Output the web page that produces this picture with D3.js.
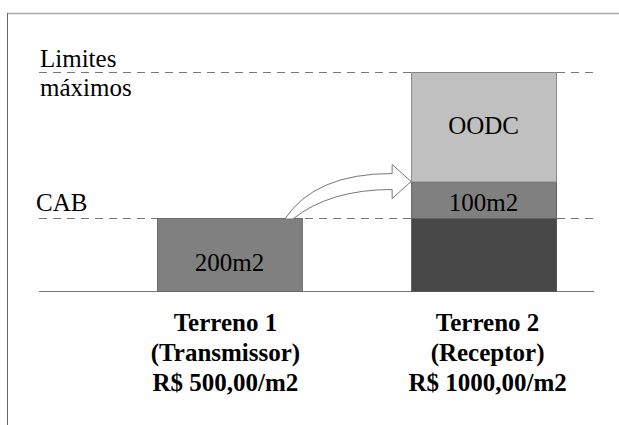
<!DOCTYPE html>
<html>
<head>
<meta charset="utf-8">
<script src="https://cdn.jsdelivr.net/npm/d3@7"></script>
<style>
  body { margin: 0; background: #fff; }
  svg text { font-family: "Liberation Serif", "Times New Roman", serif; fill: #000; }
</style>
</head>
<body>
<div id="chart"></div>
<script>
// data
const categories = ["Terreno 1", "Terreno 2"];
const categoryLabels = [
    ["Terreno 1", "(Transmissor)", "R$ 500,00/m2"],
    ["Terreno 2", "(Receptor)", "R$ 1000,00/m2"],
];
const segCategory = ["Terreno 1", "Terreno 2", "Terreno 2", "Terreno 2"];
const segStart = [0, 0, 200, 300];
const segEnd = [200, 200, 300, 600];
const segLabel = ["200m2", "", "100m2", "OODC"];
const refValues = [600, 200];
const refLabels = [["Limites", "máximos"], ["CAB"]];
const transferFrom = "Terreno 1";
const transferTo = "Terreno 2";
const transferLevel = 300; // top of transferred area

// styles
const segColors = ["#808080", "#484848", "#808080", "#c0c0c0"];
const segStroke = ["#6a6a6a", "#555", "#606060", "#888"];
const labelDy = [16, 0, 11, 7];
const catDx = [-4, 4];

const width = 619, height = 425;
const svg = d3.select("#chart").append("svg").attr("width", width).attr("height", height);

const x = d3.scaleBand().domain(categories).range([157, 556]).paddingInner(0.43).paddingOuter(0);
const y = d3.scaleLinear().domain([0, 600]).range([291, 72]);
const lineX0 = 39, lineX1 = 594;

// frame
svg.append("line").attr("x1", 7).attr("y1", 13.5).attr("x2", width).attr("y2", 13.5)
    .attr("stroke", "#a8a8a8").attr("stroke-width", 1.5);
svg.append("line").attr("x1", 7.5).attr("y1", 13).attr("x2", 7.5).attr("y2", height)
    .attr("stroke", "#666").attr("stroke-width", 1);

// reference dashed lines
svg.selectAll("line.ref").data(refValues).enter().append("line")
    .attr("class", "ref")
    .attr("x1", lineX0).attr("x2", lineX1)
    .attr("y1", d => Math.round(y(d)) + 0.5).attr("y2", d => Math.round(y(d)) + 0.5)
    .attr("stroke", "#777").attr("stroke-dasharray", "8,6");

// baseline
svg.append("line").attr("x1", lineX0).attr("x2", lineX1)
    .attr("y1", y(0) + 0.5).attr("y2", y(0) + 0.5).attr("stroke", "#777");

// bars
const segIdx = d3.range(segStart.length);
svg.selectAll("rect.seg").data(segIdx).enter().append("rect")
    .attr("class", "seg")
    .attr("x", i => x(segCategory[i]) + 0.5)
    .attr("y", i => y(segEnd[i]) + 0.5)
    .attr("width", x.bandwidth())
    .attr("height", i => y(segStart[i]) - y(segEnd[i]))
    .attr("fill", i => segColors[i])
    .attr("stroke", i => segStroke[i]);

svg.selectAll("text.seg").data(segIdx.filter(i => segLabel[i])).enter().append("text")
    .attr("class", "seg")
    .attr("x", i => x(segCategory[i]) + x.bandwidth() / 2)
    .attr("y", i => (y(segStart[i]) + y(segEnd[i])) / 2 + labelDy[i])
    .attr("text-anchor", "middle")
    .attr("font-size", 25)
    .text(i => segLabel[i]);

// reference labels
svg.selectAll("text.ref").data(refValues).enter().append("text")
    .attr("class", "ref")
    .attr("x", (d, i) => i === 0 ? 40 : 36)
    .attr("y", (d, i) => i === 0 ? y(d) - 5 : y(d) - 7.5)
    .attr("font-size", 25)
    .selectAll("tspan").data((d, i) => refLabels[i]).enter().append("tspan")
    .attr("x", function() { return this.parentNode.getAttribute("x"); })
    .attr("dy", (d, j) => j === 0 ? 0 : 28.5)
    .text(d => d);

// category labels
svg.selectAll("text.cat").data(categories).enter().append("text")
    .attr("class", "cat")
    .attr("font-size", 25).attr("font-weight", "bold")
    .attr("text-anchor", "middle")
    .attr("y", 331)
    .selectAll("tspan").data((d, i) => categoryLabels[i].map(t => [t, x(d) + x.bandwidth() / 2 + catDx[i]]))
    .enter().append("tspan")
    .attr("x", d => d[0] && d[1])
    .attr("dy", (d, j) => j === 0 ? 0 : 30)
    .text(d => d[0]);

// transfer arrow
const sx = x(transferFrom) + x.bandwidth();
const sy = y(200) + 1;
const tx = x(transferTo);
const ty = y(transferLevel);
const hx = tx - 19;
const arrow = d3.path();
arrow.moveTo(sx - 17, sy);
arrow.quadraticCurveTo(sx + 13, ty - 8, hx, ty - 8);
arrow.lineTo(hx, ty - 17);
arrow.lineTo(tx, ty);
arrow.lineTo(hx, ty + 17);
arrow.lineTo(hx, ty + 8);
arrow.quadraticCurveTo(sx + 28, ty + 8, sx - 9, sy);
arrow.closePath();
svg.append("path").attr("d", arrow.toString())
    .attr("fill", "#fff").attr("stroke", "#777").attr("stroke-width", 1);
</script>
</body>
</html>
